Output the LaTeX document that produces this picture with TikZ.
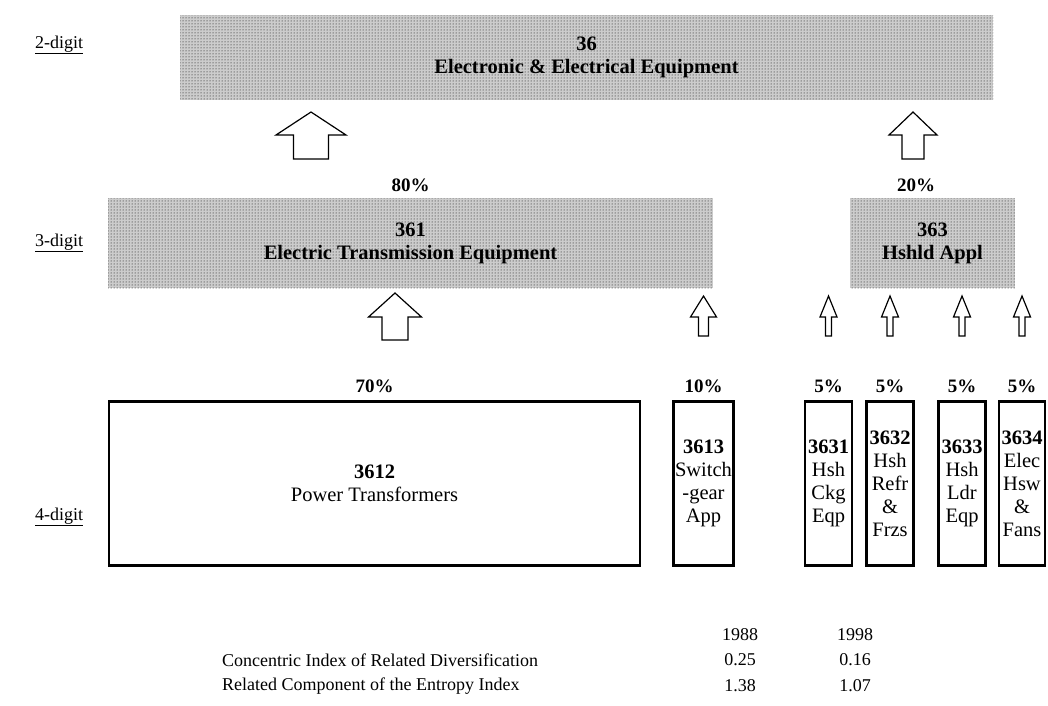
\documentclass[tikz,border=0pt]{standalone}
\usepackage{fontspec}
\setmainfont{Liberation Serif}
\usetikzlibrary{patterns}

% hollow block arrow pointing up: centre x, tip y, shoulder y, base y, head half-width, shaft half-width
\newcommand\uparrowblock[6]{%
  \draw[blockarrow] (#1,#2) -- (#1+#5,#3) -- (#1+#6,#3) -- (#1+#6,#4)
    -- (#1-#6,#4) -- (#1-#6,#3) -- (#1-#5,#3) -- cycle;}

\begin{document}
\begin{tikzpicture}[x=1pt,y=-1pt,
  shaded/.style={draw=none, inner sep=0pt, preaction={fill=black!20},
    pattern=dots, pattern color=black, align=center,
    font=\fontsize{20.5}{23}\selectfont\bfseries},
  leaf/.style={draw, line width=2.6pt, inner sep=0pt, align=center,
    font=\fontsize{20.5}{23}\selectfont},
  pct/.style={inner sep=0pt, font=\fontsize{19}{22}\selectfont\bfseries},
  lvl/.style={inner sep=0pt, anchor=west, font=\fontsize{18}{22}\selectfont},
  tbl/.style={inner sep=0pt, font=\fontsize{18}{22}\selectfont},
  blockarrow/.style={draw, line width=1.2pt, fill=white, line join=miter}]
\useasboundingbox (0,0) rectangle (1048,705);

% level labels
\node[lvl] (l2) at (35,45) {\underline{2-digit}};
\node[lvl] (l3) at (35,243) {\underline{3-digit}};
\node[lvl] (l4) at (35,517) {\underline{4-digit}};

% 2-digit industry
\node[shaded, minimum width=813, minimum height=85] (n36) at (586.5,57.5)
  {36\\Electronic \& Electrical Equipment};

% 3-digit industries
\node[shaded, minimum width=605, minimum height=90] (n361) at (410.5,243)
  {361\\Electric Transmission Equipment};
\node[shaded, minimum width=165, minimum height=90] (n363) at (932.5,243)
  {363\\Hshld Appl};
\node[pct] (p361) at (410.5,185) {80\%};
\node[pct] (p363) at (916,185) {20\%};

% 4-digit industries
\node[leaf, minimum width=531, minimum height=164] (n3612) at (374.5,483.5)
  {\textbf{3612}\\Power Transformers};
\node[leaf, minimum width=60, minimum height=164] (n3613) at (703.5,483.5)
  {\textbf{3613}\\Switch\\-gear\\App};
\node[leaf, minimum width=47, minimum height=164] (n3631) at (828.5,483.5)
  {\textbf{3631}\\Hsh\\Ckg\\Eqp};
\node[leaf, minimum width=47, minimum height=164] (n3632) at (890,483.5)
  {\textbf{3632}\\Hsh\\Refr\\\&\\Frzs};
\node[leaf, minimum width=47, minimum height=164] (n3633) at (962,483.5)
  {\textbf{3633}\\Hsh\\Ldr\\Eqp};
\node[leaf, minimum width=46, minimum height=164] (n3634) at (1022,483.5)
  {\textbf{3634}\\Elec\\Hsw\\\&\\Fans};

\node[pct] (p3612) at (374.5,386) {70\%};
\node[pct] (p3613) at (703.5,386) {10\%};
\node[pct] (p3631) at (828.5,386) {5\%};
\node[pct] (p3632) at (890,386) {5\%};
\node[pct] (p3633) at (962,386) {5\%};
\node[pct] (p3634) at (1022,386) {5\%};

% aggregation arrows
\uparrowblock{311}{112}{135}{159}{35}{17.5}
\uparrowblock{913}{112}{135}{159}{24}{11}
\uparrowblock{395}{293}{317}{340}{26.5}{13}
\uparrowblock{703.5}{296}{317}{336}{13}{5}
\uparrowblock{828.5}{296}{317}{336}{8.5}{3}
\uparrowblock{890}{296}{317}{336}{8.5}{3}
\uparrowblock{962}{296}{317}{336}{8.5}{3}
\uparrowblock{1022}{296}{317}{336}{8.5}{3}

% diversification indices
\node[tbl] (y88) at (740,635) {1988};
\node[tbl] (y98) at (855,635) {1998};
\node[tbl, anchor=west] (r1) at (222,660) {Concentric Index of Related Diversification};
\node[tbl, anchor=west] (r2) at (222,686) {Related Component of the Entropy Index};
\node[tbl] (c88) at (740,660) {0.25};
\node[tbl] (c98) at (855,660) {0.16};
\node[tbl] (e88) at (740,686) {1.38};
\node[tbl] (e98) at (855,686) {1.07};
\end{tikzpicture}
\end{document}
